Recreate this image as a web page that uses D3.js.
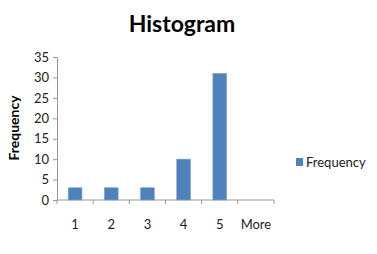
<!DOCTYPE html>
<html>
<head>
<meta charset="utf-8">
<script src="https://cdn.jsdelivr.net/npm/d3@7"></script>
<style>
  body { margin: 0; background: #fff; }
  svg text { font-family: Lato, "Open Sans", sans-serif; }
</style>
</head>
<body>
<div id="chart"></div>
<script>
const categories = ['1', '2', '3', '4', '5', 'More'];
const frequency = [3, 3, 3, 10, 31, 0];
const yTicks = [0, 5, 10, 15, 20, 25, 30, 35];

const width = 377, height = 254;
const margin = { top: 57, left: 57, right: 103, bottom: 54 };

const svg = d3.select('#chart').append('svg')
  .attr('width', width)
  .attr('height', height);

const x = d3.scaleBand()
  .domain(categories)
  .range([margin.left, width - margin.right])
  .paddingInner(0.62)
  .paddingOuter(0.31);

const y = d3.scaleLinear()
  .domain([0, 35])
  .range([height - margin.bottom, margin.top]);

// title
svg.append('text')
  .attr('x', 182).attr('y', 32)
  .attr('text-anchor', 'middle')
  .style('font-size', '23px')
  .style('font-weight', 'bold')
  .text('Histogram');

// y axis
const yAxis = svg.append('g')
  .attr('transform', `translate(${margin.left},0)`)
  .call(d3.axisLeft(y).tickValues(yTicks).tickSize(4).tickPadding(4));
yAxis.select('.domain').attr('stroke', '#999');
yAxis.selectAll('.tick line').attr('stroke', '#999');
yAxis.selectAll('.tick text').style('font-size', '13px').attr('fill', '#222');

// x axis: tick marks at band boundaries
const xAxis = svg.append('g')
  .attr('transform', `translate(0,${y(0)})`);
xAxis.append('line')
  .attr('x1', margin.left).attr('x2', width - margin.right)
  .attr('stroke', '#999');
const step = x.step();
xAxis.selectAll('.xt')
  .data(d3.range(categories.length + 1))
  .enter().append('line')
  .attr('x1', i => margin.left + i * step)
  .attr('x2', i => margin.left + i * step)
  .attr('y1', 0).attr('y2', 4)
  .attr('stroke', '#999');
xAxis.selectAll('.xl')
  .data(categories)
  .enter().append('text')
  .attr('x', d => x(d) + x.bandwidth() / 2)
  .attr('y', 29)
  .attr('text-anchor', 'middle')
  .style('font-size', '13px')
  .attr('fill', '#222')
  .text(d => d);

// bars
svg.selectAll('.bar')
  .data(categories)
  .enter().append('rect')
  .attr('class', 'bar')
  .attr('x', d => x(d))
  .attr('width', x.bandwidth())
  .attr('y', (d, i) => y(frequency[i]))
  .attr('height', (d, i) => y(0) - y(frequency[i]))
  .attr('fill', '#4F81BD')
  .attr('stroke', '#7FA3D3')
  .attr('stroke-width', 0.6);

// y label
svg.append('text')
  .attr('transform', 'translate(19,128) rotate(-90)')
  .attr('text-anchor', 'middle')
  .style('font-size', '14px')
  .style('font-weight', 'bold')
  .text('Frequency');

// legend
svg.append('rect')
  .attr('x', 296).attr('y', 158)
  .attr('width', 7).attr('height', 8)
  .attr('fill', '#4F81BD');
svg.append('text')
  .attr('x', 306).attr('y', 167)
  .style('font-size', '13px')
  .attr('fill', '#222')
  .text('Frequency');
</script>
</body>
</html>
